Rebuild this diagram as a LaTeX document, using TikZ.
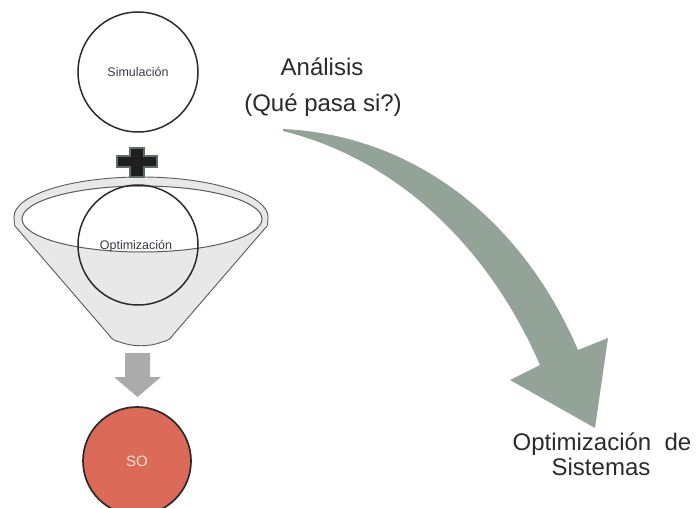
\documentclass[tikz,border=0pt]{standalone}
\usepackage{fontspec}
\setmainfont{Liberation Sans}
\definecolor{inkdark}{HTML}{2B2B2B}
\definecolor{labelink}{HTML}{3A3A46}
\definecolor{funnelgray}{HTML}{E8E8E8}
\definecolor{funnelline}{HTML}{5A5A5A}
\definecolor{plusfill}{HTML}{1F1F1F}
\definecolor{plusedge}{HTML}{5D6E62}
\definecolor{flowgray}{HTML}{ABABAB}
\definecolor{sogreen}{HTML}{94A398}
\definecolor{sored}{HTML}{DB6B58}
\definecolor{sotext}{HTML}{F6DED6}
\begin{document}
\begin{tikzpicture}[x=1pt,y=-1pt,
  ring/.style={circle, draw=inkdark, line width=1.5pt, inner sep=0pt},
  smalltext/.style={font=\fontsize{12.5}{14}\selectfont, text=labelink},
  bigtext/.style={font=\fontsize{24}{25}\selectfont, text=inkdark, anchor=base}]

% page frame
\useasboundingbox[fill=white] (0,0) rectangle (699,508);

% funnel body (sides and rounded spout)
\fill[funnelgray] (15,226) -- (109,335)
  .. controls (112,340) and (116,341) .. (120,342)
  .. controls (132,347) and (150,347) .. (162,342)
  .. controls (166,341) and (170,340) .. (173,335)
  -- (267,226) -- cycle;
% funnel rim
\fill[funnelgray] (141,217) ellipse [x radius=127pt, y radius=40pt];
\draw[funnelline, line width=0.9pt]
  (15,226) -- (109,335)
  .. controls (112,340) and (116,341) .. (120,342)
  .. controls (132,347) and (150,347) .. (162,342)
  .. controls (166,341) and (170,340) .. (173,335)
  -- (267,226)
  .. controls (268,222) and (268,219) .. (268,217)
  .. controls (268,195) and (211,177) .. (141,177)
  .. controls (71,177) and (14,195) .. (14,217)
  .. controls (14,219) and (14,222) .. (15,226);
\draw[funnelline, line width=1pt, fill=white] (142,219) ellipse [x radius=120pt, y radius=33pt];

% circles
\node[ring, minimum size=120pt] (sim) at (138,72) {};
\node[smalltext] (simlabel) at (sim.center) {Simulación};
\node[ring, minimum size=120pt] (opt) at (138,245) {};
\node[smalltext] (optlabel) at (136,246) {Optimización};
\node[ring, minimum size=108pt, fill=sored, line width=1.7pt] (so) at (137,461) {};
\node[font=\fontsize{15}{17}\selectfont, text=sotext] (solabel) at (so.center) {SO};

% plus sign between the two circles
\draw[plusedge, line width=1.5pt, fill=plusfill]
  (130,148) -- (144,148) -- (144,156) -- (157,156) -- (157,167) -- (144,167)
  -- (144,177) -- (130,177) -- (130,167) -- (117,167) -- (117,156) -- (130,156) -- cycle;

% block arrow from the funnel down to SO
\fill[flowgray] (125,353) -- (150,353) -- (150,377) -- (161,377) -- (137.5,397)
  -- (114,377) -- (125,377) -- cycle;

% labels on the right
\node[bigtext] (analisis) at (322,76) {Análisis};
\node[bigtext] (quepasa) at (323,112) {(Qué pasa si?)};
\node[bigtext] (optsis) at (602,450) {Optimización\ \ de};
\node[bigtext] (sistemas) at (601,475) {Sistemas};

% tapered curved arrow from the question to the result
\fill[sogreen] (283,129)
  .. controls (410,135) and (520,215) .. (578,350)
  -- (608,338) -- (595,428) -- (510,380) -- (540,365)
  .. controls (490,250) and (400,160) .. (283,131) -- cycle;
\end{tikzpicture}
\end{document}
